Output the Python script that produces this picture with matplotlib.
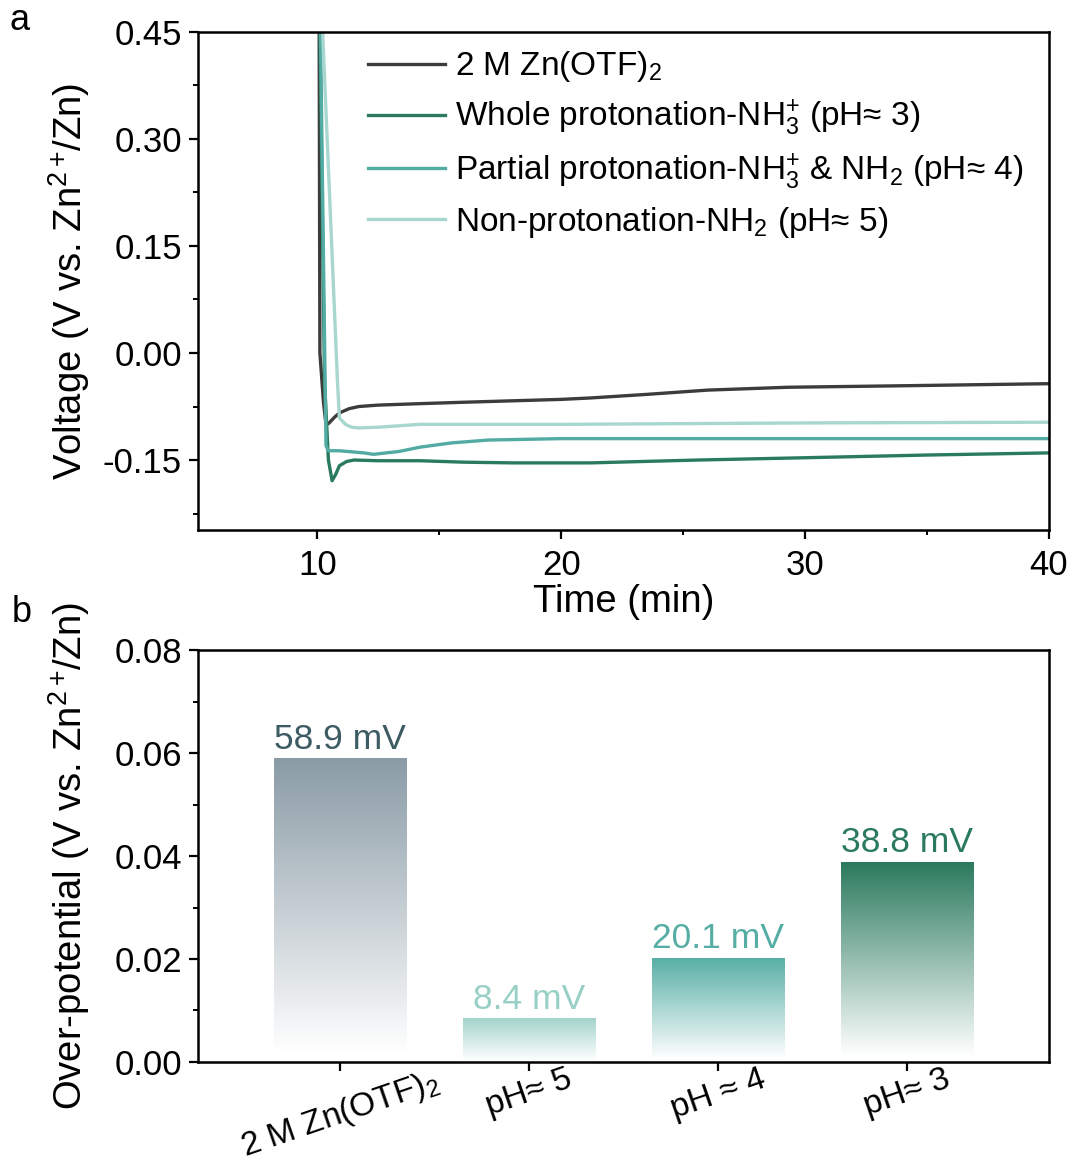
import matplotlib
matplotlib.use('Agg')
import matplotlib.pyplot as plt
import numpy as np
from matplotlib.colors import to_rgb

### Plotting defaults
plt.rcParams['font.family'] = ['Liberation Sans', 'DejaVu Sans']
plt.rcParams['mathtext.fontset'] = 'custom'
plt.rcParams['mathtext.rm'] = 'Liberation Sans'
plt.rcParams['mathtext.default'] = 'regular'

###############################################################################
### Data (panel a): voltage-time curves
t_zn = [10.07, 10.10, 10.25, 10.35, 10.45, 10.7, 10.9, 11.3, 11.7, 12.5, 14.2,
        16.0, 18.0, 20.0, 21.2, 23.5, 26.0, 29.3, 33.8, 40.0]
v_zn = [0.46, 0.0, -0.07, -0.100, -0.099, -0.090, -0.084, -0.078, -0.075, -0.073,
        -0.071, -0.069, -0.067, -0.065, -0.063, -0.058, -0.052, -0.048, -0.046, -0.043]

t_ph3 = [10.10, 10.29, 10.45, 10.6, 10.75, 10.9, 11.2, 11.5, 12.5, 14.2, 16.0,
         18.0, 21.2, 25.6, 29.7, 35.0, 40.0]
v_ph3 = [0.46, -0.039, -0.150, -0.179, -0.170, -0.158, -0.152, -0.150, -0.151,
         -0.151, -0.153, -0.154, -0.154, -0.150, -0.147, -0.143, -0.140]

t_ph4 = [10.12, 10.35, 10.45, 10.9, 11.9, 12.3, 13.35, 14.2, 15.5, 17.0, 20.0,
         25.0, 30.0, 35.0, 40.0]
v_ph4 = [0.46, -0.130, -0.137, -0.137, -0.140, -0.142, -0.138, -0.132, -0.126,
         -0.122, -0.120, -0.120, -0.120, -0.120, -0.120]

t_ph5 = [10.20, 10.82, 10.9, 11.15, 11.4, 11.7, 12.5, 14.2, 20.0, 30.0, 40.0]
v_ph5 = [0.46, -0.039, -0.091, -0.100, -0.104, -0.105, -0.104, -0.100, -0.100,
         -0.098, -0.097]

curve_labels = ['2 M Zn(OTF)$_2$',
                'Whole protonation-NH$_3^{+}\\;$(pH\u2248 3)',
                'Partial protonation-NH$_3^{+}\\;$& NH$_2$ (pH\u2248 4)',
                'Non-protonation-NH$_2$ (pH\u2248 5)']
curve_colors = ['#3c3c3c', '#2a7a5e', '#52aca3', '#a7d7cf']

### Data (panel b): over-potential bars
bar_names = ['2 M Zn(OTF)$_2$', 'pH\u2248 5', 'pH \u2248 4', 'pH\u2248 3']
bar_values = [0.0589, 0.0084, 0.0201, 0.0388]
bar_text = ['58.9 mV', '8.4 mV', '20.1 mV', '38.8 mV']
bar_colors = ['#8a9ba6', '#a3d3cb', '#58afa6', '#2b7a5e']
text_colors = ['#3d5b62', '#99d0c6', '#55ada4', '#2b7a5e']

###############################################################################
fig = plt.figure(figsize=(10.73, 11.66), dpi=100)
ax1 = fig.add_axes([0.1845, 0.5455, 0.7931, 0.4271])
ax2 = fig.add_axes([0.1845, 0.0892, 0.7931, 0.3533])

def style_axis(ax):
    for sp in ax.spines.values():
        sp.set_linewidth(1.8)
    ax.tick_params(which='major', direction='out', length=6.5, width=1.6,
                   labelsize=25, top=False, right=False)
    ax.tick_params(which='minor', direction='out', length=3.5, width=1.4,
                   top=False, right=False)

### Panel a
style_axis(ax1)
series = [(t_zn, v_zn), (t_ph3, v_ph3), (t_ph4, v_ph4), (t_ph5, v_ph5)]
for (tt, vv), lab, col in zip(series, curve_labels, curve_colors):
    ax1.plot(tt, vv, color=col, lw=2.4, label=lab)

ax1.set_xlim(5.1, 40)
ax1.set_ylim(-0.248, 0.45)
ax1.set_xticks([10, 20, 30, 40])
ax1.set_xticks([15, 25, 35], minor=True)
ax1.set_yticks([-0.15, 0.0, 0.15, 0.30, 0.45])
ax1.set_yticklabels(['-0.15', '0.00', '0.15', '0.30', '0.45'])
ax1.set_yticks([-0.225, -0.075, 0.075, 0.225, 0.375], minor=True)
ax1.tick_params(axis='x', pad=7)
ax1.tick_params(axis='y', pad=5)
ax1.set_xlabel('Time (min)', fontsize=27.5, labelpad=2)
ax1.set_ylabel('Voltage (V vs. Zn$^{2+}\\!$/Zn)', fontsize=27.5)
ax1.yaxis.set_label_coords(-0.125, 0.5)

leg = ax1.legend(loc='upper left', bbox_to_anchor=(0.2, 0.965), frameon=False,
                 fontsize=24, handlelength=2.3, handletextpad=0.3,
                 labelspacing=0.4, borderpad=0, borderaxespad=0)

### Panel b
style_axis(ax2)
xpos = np.arange(len(bar_values))
bars = ax2.bar(xpos, bar_values, width=0.7, color='none', edgecolor='none')
for bar, col in zip(bars, bar_colors):
    x0, y0 = bar.get_x(), bar.get_y()
    w, h = bar.get_width(), bar.get_height()
    frac = np.clip((np.linspace(0, 1, 256) - 0.03) / 0.97, 0, 1)
    rgb = np.array(to_rgb(col))
    grad = np.ones((256, 1, 3)) * (1 - frac[:, None, None]) + rgb[None, None, :] * frac[:, None, None]
    ax2.imshow(grad, extent=[x0, x0 + w, y0, y0 + h], origin='lower',
               aspect='auto', zorder=2, interpolation='bilinear')

for x, v, s, c in zip(xpos, bar_values, bar_text, text_colors):
    ax2.text(x, v + 0.0006, s, ha='center', va='bottom', color=c, fontsize=25.5)

ax2.set_xlim(-0.75, 3.75)
ax2.set_ylim(0, 0.08)
ax2.set_xticks(xpos)
ax2.set_xticklabels(bar_names, rotation=19, fontsize=24)
ax2.set_yticks([0.0, 0.02, 0.04, 0.06, 0.08])
ax2.set_yticklabels(['0.00', '0.02', '0.04', '0.06', '0.08'])
ax2.set_yticks([0.01, 0.03, 0.05, 0.07], minor=True)
ax2.tick_params(axis='x', pad=-5)
ax2.tick_params(axis='y', pad=5)
ax2.set_ylabel('Over-potential (V vs. Zn$^{2+}\\!$/Zn)', fontsize=27.5)
ax2.yaxis.set_label_coords(-0.125, 0.5)

fig.text(20 / 1073, 1 - 20 / 1166, 'a', fontsize=26, ha='center', va='center')
fig.text(22 / 1073, 1 - 612 / 1166, 'b', fontsize=26, ha='center', va='center')

plt.savefig('out.png', dpi=100)
